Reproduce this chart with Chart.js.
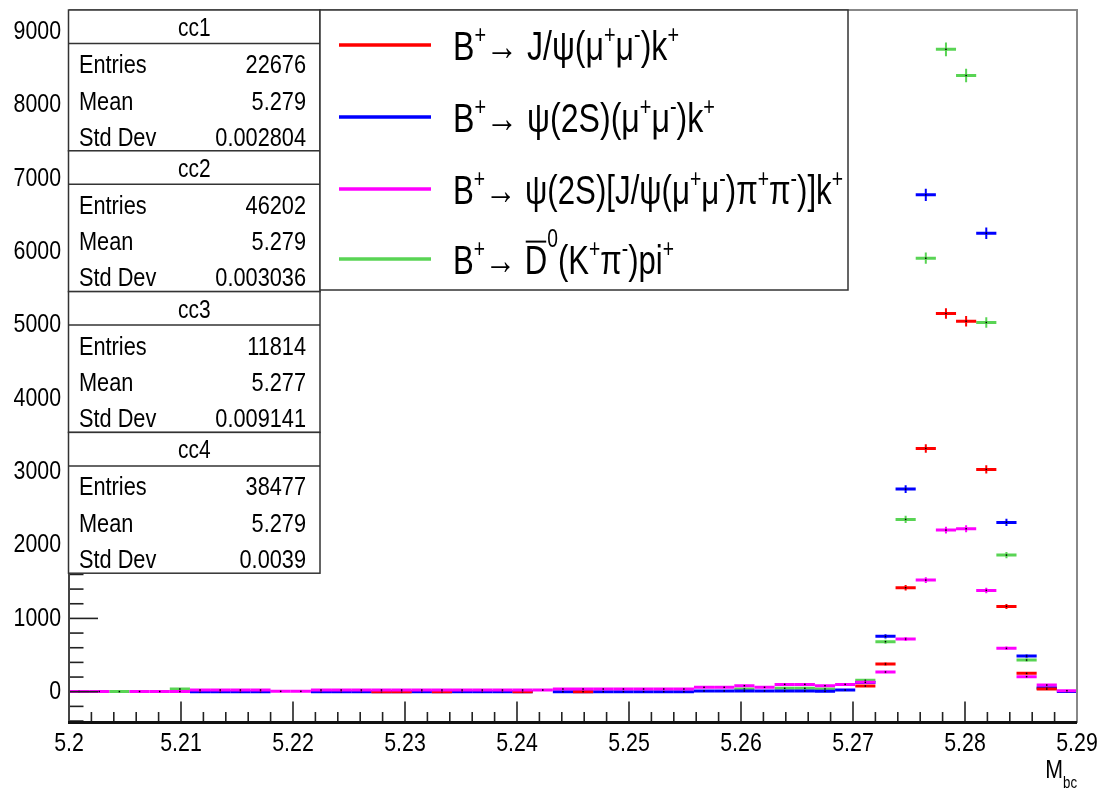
<!DOCTYPE html>
<html><head><meta charset="utf-8">
<script src="https://cdn.jsdelivr.net/npm/chart.js@4.4.0/dist/chart.umd.min.js"></script>
<style>html,body{margin:0;padding:0;background:#fff;overflow:hidden}#wrap{width:1100px;height:789px}canvas{display:block}</style>
</head><body><div id="wrap"><canvas id="c" width="1100" height="789"></canvas></div>
<script>
// ---------------- data ----------------
const X_MIN = 5.2, X_MAX = 5.29, N_BINS = 50;
const Y_MIN = -420, Y_MAX = 9300;
const X_TICKS = [5.2, 5.21, 5.22, 5.23, 5.24, 5.25, 5.26, 5.27, 5.28, 5.29];
const X_TICK_LABELS = ['5.2','5.21','5.22','5.23','5.24','5.25','5.26','5.27','5.28','5.29'];
const Y_TICKS = [0,1000,2000,3000,4000,5000,6000,7000,8000,9000];
const Y_TICK_LABELS = ['0','1000','2000','3000','4000','5000','6000','7000','8000','9000'];
const X_MINOR_STEP = 0.002, Y_MINOR_STEP = 200;

const SERIES_NAMES = ['cc1','cc2','cc3','cc4'];
// counts per bin (null = empty bin, not drawn)
const cc1 = [null,null,null,null,null,null,null,null,null,null,
             null,null,null,null,null,1,1,null,1,null,
             null,null,1,null,null,1,null,null,null,null,
             null,null,null,null,null,null,null,null,null,78,
             378,1418,3319,5160,5055,3033,1164,251,37,null];
const cc2 = [null,null,null,null,null,null,1,1,1,1,
             null,null,1,1,1,1,1,1,1,1,
             1,1,1,null,1,1,1,1,1,1,
             1,10,10,10,10,10,10,5,23,125,
             755,2764,6778,13600,13200,6255,2310,487,55,2];
const cc3 = [3,3,null,3,3,3,23,23,23,23,
             5,5,23,23,23,23,23,23,23,23,
             23,23,23,23,37,37,37,37,37,37,
             37,60,60,82,60,100,100,82,100,128,
             269,719,1523,2205,2223,1382,592,205,91,14];
const cc4 = [null,null,2,null,null,37,null,null,null,null,
             null,null,null,null,null,null,null,null,null,null,
             null,null,null,null,null,null,null,null,null,null,
             null,null,null,37,null,46,46,37,null,155,
             682,2351,5914,8764,8406,5037,1864,432,45,null];
const SERIES = [cc1, cc2, cc3, cc4];
const COLORS = ['#ff0000','#0000ff','#ff00ff','#59d454'];
const DRAW_ORDER = [2, 3, 1, 4]; // higher = drawn underneath

const STAT_NAMES = ['cc1','cc2','cc3','cc4'];
const STAT_ENTRIES = ['22676','46202','11814','38477'];
const STAT_MEANS = ['5.279','5.279','5.277','5.279'];
const STAT_STDS = ['0.002804','0.003036','0.009141','0.0039'];

const LEGEND_LABELS = [
  [{t:'B'},{t:'+',sup:1},{t:'\u2192 J/\u03c8(\u03bc'},{t:'+',sup:1},{t:'\u03bc'},{t:'-',sup:1},{t:')k'},{t:'+',sup:1}],
  [{t:'B'},{t:'+',sup:1},{t:'\u2192 \u03c8(2S)(\u03bc'},{t:'+',sup:1},{t:'\u03bc'},{t:'-',sup:1},{t:')k'},{t:'+',sup:1}],
  [{t:'B'},{t:'+',sup:1},{t:'\u2192 \u03c8(2S)[J/\u03c8(\u03bc'},{t:'+',sup:1},{t:'\u03bc'},{t:'-',sup:1},{t:')\u03c0'},{t:'+',sup:1},{t:'\u03c0'},{t:'-',sup:1},{t:')]k'},{t:'+',sup:1}],
  [{t:'B'},{t:'+',sup:1},{t:'\u2192 '},{t:'D',over:1},{t:'0',sup:1,hi:0.66},{t:'(K'},{t:'+',sup:1},{t:'\u03c0'},{t:'-',sup:1},{t:')pi'},{t:'+',sup:1}]
];
const X_TITLE = [{t:'M'},{t:'bc',sub:1}];

// ---------------- fonts ----------------
const NARROW_OK = (() => {
  const c = document.createElement('canvas').getContext('2d');
  c.font = '40px "Liberation Sans Narrow", monospace'; const a = c.measureText('Entries Mean 0123').width;
  c.font = '40px monospace'; const b = c.measureText('Entries Mean 0123').width;
  return Math.abs(a - b) > 0.5;
})();
const FAM = NARROW_OK ? '"Liberation Sans Narrow", "Liberation Sans", sans-serif' : '"Liberation Sans", sans-serif';
const SX = NARROW_OK ? 1 : 0.82;
const TICK_SIZE = 26;

const BIN_W = (X_MAX - X_MIN) / N_BINS;
const binCenters = Array.from({length: N_BINS}, (_, k) => X_MIN + (k + 0.5) * BIN_W);

// draws text with super/subscripts; optional fitWidth squeezes the line to a given width
function drawRich(ctx, x, base, parts, size, align, fitWidth) {
  const items = parts.map(p => {
    const s = (p.sup || p.sub) ? size * 0.62 : size;
    ctx.font = s + 'px ' + FAM;
    return Object.assign({}, p, {s, w: ctx.measureText(p.t).width * SX});
  });
  let total = items.reduce((a, b) => a + b.w, 0);
  let k = 1;
  if (fitWidth) { k = fitWidth / total; items.forEach(it => it.w *= k); total = fitWidth; }
  let cx = align === 'right' ? x - total : align === 'center' ? x - total / 2 : x;
  ctx.textAlign = 'left'; ctx.textBaseline = 'alphabetic';
  for (const it of items) {
    ctx.font = it.s + 'px ' + FAM;
    const dy = it.sup ? -size * (it.hi || 0.42) : it.sub ? size * 0.38 : 0;
    ctx.save(); ctx.translate(cx, base + dy); ctx.scale(SX * k, 1); ctx.fillText(it.t, 0, 0); ctx.restore();
    if (it.over) {
      ctx.save(); ctx.lineWidth = 2; ctx.beginPath();
      ctx.moveTo(cx + 1, base - size * 0.8); ctx.lineTo(cx + it.w - 1, base - size * 0.8); ctx.stroke(); ctx.restore();
    }
    cx += it.w;
  }
}

// make the library's own tick labels use the condensed look when no narrow face exists
function condenseLabels(s) {
  s.paddingTop = 0; s.paddingBottom = 0; s.paddingLeft = 0; s.paddingRight = 0;
  if (s._condensed || SX === 1) return;
  s._condensed = true;
  const orig = s.drawLabels;
  s.drawLabels = function (area) {
    const ctx = this.ctx, ft = ctx.fillText;
    ctx.fillText = function (t, x, y) { this.save(); this.translate(x, y); this.scale(SX, 1); ft.call(this, t, 0, 0); this.restore(); };
    try { orig.call(this, area); } finally { ctx.fillText = ft; }
  };
}

const rootPlugin = {
  id: 'rootStyle',
  beforeDraw(chart) {
    const c = chart.ctx; c.save(); c.fillStyle = '#fff'; c.fillRect(0, 0, chart.width, chart.height); c.restore();
  },
  afterDatasetDraw(chart, args) {
    const meta = args.meta, ds = chart.data.datasets[args.index];
    const ys = chart.scales.y, ca = chart.chartArea, c = chart.ctx;
    c.save(); c.beginPath(); c.rect(ca.left, ca.top, ca.right - ca.left, ca.bottom - ca.top); c.clip();
    meta.data.forEach((el, i) => {
      const v = meta._parsed[i].y; if (v == null) return;
      const e = Math.sqrt(v);
      const px = el.x;
      c.strokeStyle = ds.borderColor; c.lineWidth = 2;
      c.beginPath(); c.moveTo(px, ys.getPixelForValue(v + e)); c.lineTo(px, ys.getPixelForValue(v - e)); c.stroke();
      c.fillStyle = '#000'; c.fillRect(px - 0.75, el.y - 0.75, 1.5, 1.5);
    });
    c.restore();
  },
  afterDraw(chart) {
    const c = chart.ctx, ca = chart.chartArea, xs = chart.scales.x, ys = chart.scales.y;
    c.save();
    // ticks (inside the frame)
    c.strokeStyle = '#222'; c.lineWidth = 1.6;
    const nx = Math.round((X_MAX - X_MIN) / X_MINOR_STEP);
    for (let j = 0; j <= nx; j++) {
      const px = xs.getPixelForValue(X_MIN + j * X_MINOR_STEP);
      const major = j % 5 === 0;
      c.beginPath(); c.moveTo(px, ca.bottom); c.lineTo(px, ca.bottom - (major ? 21 : 10.5)); c.stroke();
    }
    for (let v = -400; v <= 9200; v += Y_MINOR_STEP) {
      const py = ys.getPixelForValue(v);
      const major = v % 1000 === 0;
      c.beginPath(); c.moveTo(ca.left, py); c.lineTo(ca.left + (major ? 29 : 14.5), py); c.stroke();
    }
    // frame
    c.lineWidth = 2; c.strokeStyle = '#888';
    c.beginPath(); c.moveTo(ca.left, ca.top); c.lineTo(ca.right, ca.top); c.lineTo(ca.right, ca.bottom); c.stroke();
    c.strokeStyle = '#444';
    c.beginPath(); c.moveTo(ca.left, ca.top); c.lineTo(ca.left, ca.bottom); c.stroke();
    c.lineWidth = 3; c.strokeStyle = '#111';
    c.beginPath(); c.moveTo(ca.left - 1, ca.bottom); c.lineTo(ca.right, ca.bottom); c.stroke();

    // stats boxes
    const bl = 68.5, br = 320, bh = 140.8;
    for (let i = 0; i < 4; i++) {
      const top = 10 + i * bh;
      c.fillStyle = '#fff'; c.fillRect(bl, top, br - bl, bh);
      c.strokeStyle = '#333'; c.lineWidth = 1.5; c.strokeRect(bl, top, br - bl, bh);
      c.beginPath(); c.moveTo(bl, top + 33.5); c.lineTo(br, top + 33.5); c.stroke();
      c.fillStyle = '#000';
      drawRich(c, (bl + br) / 2, top + 26, [{t: STAT_NAMES[i]}], 25.5, 'center');
      drawRich(c, 79, top + 63, [{t: 'Entries'}], 26.5, 'left');
      drawRich(c, 306, top + 63, [{t: STAT_ENTRIES[i]}], 26.5, 'right');
      drawRich(c, 79, top + 99.5, [{t: 'Mean'}], 26.5, 'left');
      drawRich(c, 306, top + 99.5, [{t: STAT_MEANS[i]}], 26.5, 'right');
      drawRich(c, 79, top + 135.5, [{t: 'Std Dev'}], 26.5, 'left');
      drawRich(c, 306, top + 135.5, [{t: STAT_STDS[i]}], 26.5, 'right');
    }
    // legend
    const ll = 320, lr = 848, lt = 10, lb = 290;
    c.fillStyle = '#fff'; c.fillRect(ll, lt, lr - ll, lb - lt);
    c.strokeStyle = '#333'; c.lineWidth = 1.5; c.strokeRect(ll, lt, lr - ll, lb - lt);
    const rows = [45, 117, 189, 259];
    const rowWidths = [226, 262, 390, 221];
    for (let i = 0; i < 4; i++) {
      c.strokeStyle = COLORS[i]; c.lineWidth = 3.5;
      c.beginPath(); c.moveTo(339, rows[i]); c.lineTo(431, rows[i]); c.stroke();
      c.fillStyle = '#000'; c.strokeStyle = '#000';
      drawRich(c, 453, rows[i] + 15, LEGEND_LABELS[i], 40.5, 'left', rowWidths[i]);
    }
    // axis title
    c.fillStyle = '#000';
    drawRich(c, 1077, 778, X_TITLE, 26, 'right');
    c.restore();
  }
};

const halfBin = (ctx) => { const xs = ctx.chart.scales.x; return Math.abs(xs.getPixelForValue(X_MIN + BIN_W) - xs.getPixelForValue(X_MIN)) / 2; };

new Chart(document.getElementById('c'), {
  type: 'scatter',
  data: {
    datasets: SERIES.map((s, i) => ({
      label: SERIES_NAMES[i],
      data: binCenters.map((x, k) => s[k] == null ? null : {x: x, y: s[k]}).filter(Boolean),
      borderColor: COLORS[i],
      backgroundColor: COLORS[i],
      pointStyle: 'line',
      pointRadius: halfBin,
      pointHoverRadius: halfBin,
      pointBorderWidth: 3,
      showLine: false,
      order: DRAW_ORDER[i]
    }))
  },
  options: {
    responsive: false, animation: false, devicePixelRatio: 1, events: [],
    layout: {padding: {top: 10, right: 23, left: 0, bottom: 0}},
    plugins: {legend: {display: false}, tooltip: {enabled: false}},
    scales: {
      x: {
        type: 'linear', min: X_MIN, max: X_MAX,
        grid: {display: false, drawTicks: false, tickLength: 0}, border: {display: false},
        afterBuildTicks: (s) => { s.ticks = X_TICKS.map(v => ({value: v})); },
        afterFit: (s) => { s.height = 66.5; condenseLabels(s); },
        ticks: {autoSkip: false, maxRotation: 0, minRotation: 0, padding: 6, color: '#000',
                font: {family: FAM, size: TICK_SIZE}, callback: (v, i) => X_TICK_LABELS[i]}
      },
      y: {
        type: 'linear', min: Y_MIN, max: Y_MAX,
        grid: {display: false, drawTicks: false, tickLength: 0}, border: {display: false},
        afterBuildTicks: (s) => { s.ticks = Y_TICKS.map(v => ({value: v})); },
        afterFit: (s) => { s.width = 69; condenseLabels(s); },
        ticks: {autoSkip: false, padding: 8, color: '#000',
                font: {family: FAM, size: TICK_SIZE}, callback: (v, i) => Y_TICK_LABELS[i]}
      }
    }
  },
  plugins: [rootPlugin]
});
</script>
</body></html>
